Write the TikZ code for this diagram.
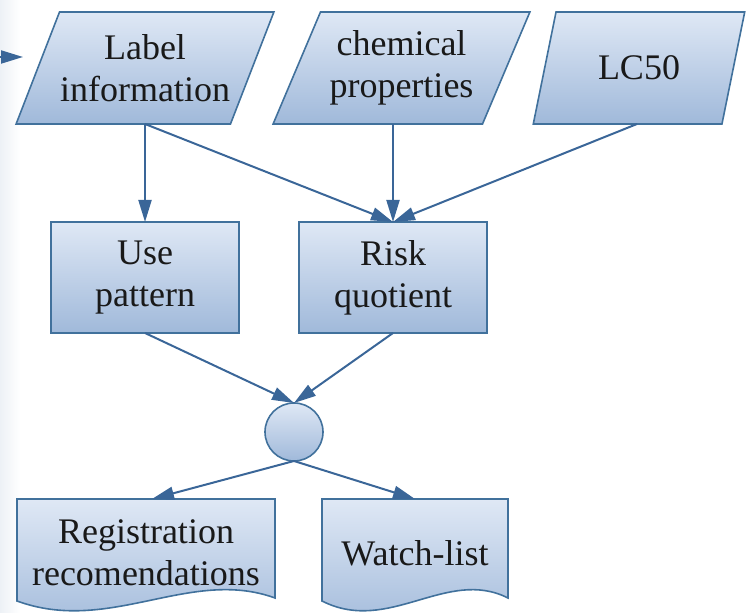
\documentclass[tikz,border=0pt]{standalone}
\usepackage{fontspec}
\setmainfont{Liberation Serif}
\usepackage{tikz}
\usetikzlibrary{arrows.meta,positioning,shapes.geometric,calc,backgrounds}
\usepackage{xcolor}
\definecolor{edgeblue}{RGB}{65,113,156}
\definecolor{lineblue}{RGB}{58,102,152}
\definecolor{filltop}{RGB}{223,232,245}
\definecolor{fillbot}{RGB}{160,185,218}

% document shape: straight top and sides, wavy bottom edge
\newcommand{\docshape}[1]{%
  \begin{scope}[on background layer]
    \shade[docfill] (#1.north west) -- (#1.north east) -- ($(#1.south east)+(0,-9)$)
      .. controls ($(#1.south west)!0.67!(#1.south east)+(0,-40)$)
      and ($(#1.south west)!0.36!(#1.south east)+(0,28)$) .. ($(#1.south west)+(0,-6)$) -- cycle;
  \end{scope}}

\begin{document}
\begin{tikzpicture}[x=0.5pt, y=-0.5pt, node distance=49pt and 30pt,
  every node/.style={font={\fontsize{18pt}{21pt}\selectfont}, text=black!90, align=center, outer sep=0pt, inner sep=2pt},
  box/.style={draw=edgeblue, line width=0.8pt, top color=filltop, bottom color=fillbot},
  datain/.style={box, trapezium, trapezium stretches=true, minimum height=56pt, inner xsep=0pt},
  procbox/.style={box, rectangle, minimum width=94pt, minimum height=55.5pt},
  docbox/.style={rectangle, minimum height=54pt},
  docfill/.style={draw=edgeblue, line width=0.8pt, top color=filltop, bottom color=fillbot},
  flow/.style={draw=lineblue, line width=1pt, -{Triangle[length=11pt,width=6.5pt]}}]
  \useasboundingbox (0,0) rectangle (746,613);
  \begin{scope}[on background layer]
    \shade[left color=lineblue!9, right color=white] (0,0) rectangle (20,613);
  \end{scope}

  % inputs
  \node[datain, minimum width=129pt, inner xsep=-6pt, trapezium left angle=63.8, trapezium right angle=116.2] (info) at (145,68) {Label\\information};
  \node[datain, minimum width=128.5pt, trapezium left angle=63, trapezium right angle=117] (chem) at (401.5,68) {chemical\\properties};
  \node[datain, minimum width=106pt, trapezium left angle=70.8, trapezium right angle=109.2] (lc) at (639,68) {LC50};

  % processing
  \node[procbox, below=of info] (usep) {Use\\pattern};
  \node[procbox, right=of usep] (risk) {Risk\\quotient};
  \node[box, circle, minimum size=29pt, inner sep=0pt] (circ) at (294,432) {};

  % outputs
  \node[docbox, minimum width=129pt] (reg) at (146,553) {Registration\\recomendations};
  \node[docbox, minimum width=93pt] (watch) at (415,553) {Watch-list};
  \docshape{reg}
  \docshape{watch}

  \coordinate (feed) at (-12,57);
  \coordinate (feedtip) at (23,57);
  \draw[flow] (feed) -- (feedtip);

  \draw[flow] (info.south) -- (usep.north);
  \draw[flow] (info.south) -- (risk.north);
  \draw[flow] (chem.south -| risk.north) -- (risk.north);
  \draw[flow] ([xshift=-1pt]lc.south) -- (risk.north);
  \draw[flow] (usep.south) -- (circ.north);
  \draw[flow] (risk.south) -- (circ.north);
  \draw[flow] (circ.south) -- ([xshift=3pt]reg.north);
  \draw[flow] (circ.south) -- (watch.north);
\end{tikzpicture}
\end{document}
